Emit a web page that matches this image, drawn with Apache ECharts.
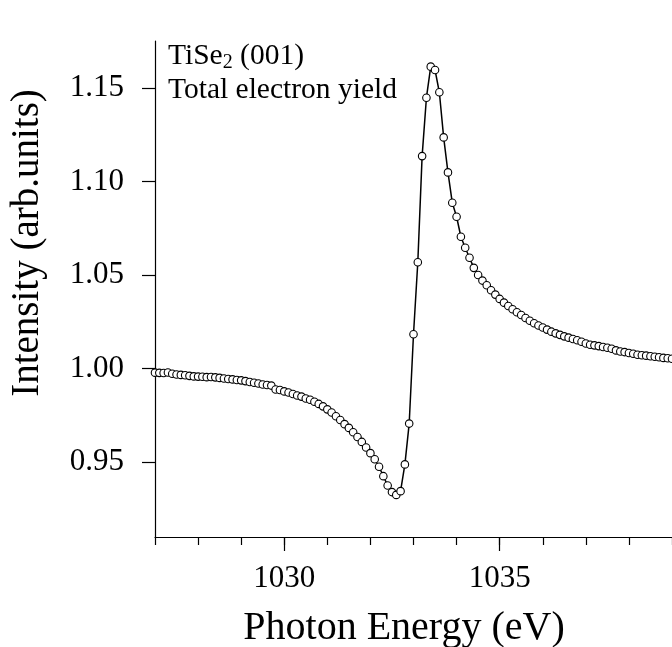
<!DOCTYPE html>
<html>
<head>
<meta charset="utf-8">
<script src="https://cdn.jsdelivr.net/npm/echarts@6/dist/echarts.min.js"></script>
<style>
html,body{margin:0;padding:0;background:#fff;}
#chart{width:672px;height:647px;}
</style>
</head>
<body>
<div id="chart"></div>
<script>
const energy = [
1027.0,1027.1,1027.2,1027.3,1027.4,1027.5,1027.6,1027.7,1027.8,1027.9,
1028.0,1028.1,1028.2,1028.3,1028.4,1028.5,1028.6,1028.7,1028.8,1028.9,
1029.0,1029.1,1029.2,1029.3,1029.4,1029.5,1029.6,1029.7,1029.8,1029.9,
1030.0,1030.1,1030.2,1030.3,1030.4,1030.5,1030.6,1030.7,1030.8,1030.9,
1031.0,1031.1,1031.2,1031.3,1031.4,1031.5,1031.6,1031.7,1031.8,1031.9,
1032.0,1032.1,1032.2,1032.3,1032.4,1032.5,1032.6,1032.7,1032.8,1032.9,
1033.0,1033.1,1033.2,1033.3,1033.4,1033.5,1033.6,1033.7,1033.8,1033.9,
1034.0,1034.1,1034.2,1034.3,1034.4,1034.5,1034.6,1034.7,1034.8,1034.9,
1035.0,1035.1,1035.2,1035.3,1035.4,1035.5,1035.6,1035.7,1035.8,1035.9,
1036.0,1036.1,1036.2,1036.3,1036.4,1036.5,1036.6,1036.7,1036.8,1036.9,
1037.0,1037.1,1037.2,1037.3,1037.4,1037.5,1037.6,1037.7,1037.8,1037.9,
1038.0,1038.1,1038.2,1038.3,1038.4,1038.5,1038.6,1038.7,1038.8,1038.9,
1039.0
];
const intensity = [
0.9978,0.9977,0.9976,0.9979,0.9972,0.9968,0.9966,0.9964,0.9961,0.9958,
0.9957,0.9956,0.9954,0.9955,0.9953,0.9950,0.9947,0.9944,0.9942,0.9939,
0.9937,0.9933,0.9928,0.9924,0.9920,0.9915,0.9912,0.9909,0.9888,0.9885,
0.9878,0.9872,0.9864,0.9856,0.9850,0.9840,0.9833,0.9823,0.9811,0.9798,
0.9782,0.9765,0.9745,0.9725,0.9703,0.9683,0.9660,0.9634,0.9608,0.9578,
0.9548,0.9515,0.9475,0.9425,0.9375,0.9340,0.9325,0.9345,0.9488,0.9706,
1.0183,1.0568,1.1135,1.1447,1.1613,1.1595,1.1476,1.1235,1.1048,1.0886,
1.0811,1.0704,1.0645,1.0592,1.0538,1.0500,1.0470,1.0445,1.0418,1.0395,
1.0372,1.0352,1.0334,1.0317,1.0301,1.0286,1.0270,1.0255,1.0242,1.0230,
1.0219,1.0208,1.0197,1.0188,1.0180,1.0172,1.0165,1.0158,1.0151,1.0143,
1.0134,1.0127,1.0124,1.0120,1.0115,1.0111,1.0106,1.0097,1.0091,1.0088,
1.0083,1.0079,1.0074,1.0071,1.0069,1.0066,1.0063,1.0060,1.0057,1.0055,
1.0052
];
const xMinorTicks = [1027,1028,1029,1030,1031,1032,1033,1034,1035,1036,1037,1038,1039];
const xMajorTicks = [1030,1035];
const yTicks = [0.95,1.00,1.05,1.10,1.15];
const xTitle = 'Photon Energy (eV)';
const yTitle = 'Intensity (arb.units)';
const annotation1 = ['TiSe','2',' (001)'];
const annotation2 = 'Total electron yield';

const FONT = 'Liberation Serif';
const data = energy.map((e,i)=>[e,intensity[i]]);

const chart = echarts.init(document.getElementById('chart'), null, {renderer:'canvas'});
chart.setOption({
  animation:false,
  backgroundColor:'#fff',
  grid:{left:155,right:0,top:41,bottom:110,containLabel:false},
  xAxis:[{
    type:'value',min:1027,max:1039,
    axisLine:{show:true,onZero:false,lineStyle:{color:'#000',width:1.2}},
    axisTick:{show:true,inside:false,length:8,customValues:xMinorTicks,lineStyle:{color:'#000',width:1.2}},
    axisLabel:{show:true,customValues:xMajorTicks,margin:26,color:'#000',fontFamily:FONT,fontSize:31,formatter:v=>String(Math.round(v))},
    splitLine:{show:false}
  },{
    type:'value',min:1027,max:1039,position:'bottom',offset:0,
    axisLine:{show:false},
    axisTick:{show:true,inside:false,length:14,customValues:xMajorTicks,lineStyle:{color:'#000',width:1.2}},
    axisLabel:{show:false},
    splitLine:{show:false}
  }],
  yAxis:{
    type:'value',min:0.91,max:1.175,
    axisLine:{show:true,onZero:false,lineStyle:{color:'#000',width:1.2}},
    axisTick:{show:true,inside:false,length:13,customValues:yTicks,lineStyle:{color:'#000',width:1.2}},
    axisLabel:{show:true,customValues:yTicks,margin:31,color:'#000',fontFamily:FONT,fontSize:31,formatter:v=>v.toFixed(2)},
    splitLine:{show:false}
  },
  series:[{
    type:'line',
    data:data,
    xAxisIndex:0,
    symbol:'circle',
    symbolSize:7.5,
    showAllSymbol:true,
    lineStyle:{color:'#000',width:1.5},
    itemStyle:{color:'#fff',borderColor:'#000',borderWidth:1.1},
    clip:false
  }],
  graphic:[{
    type:'text',left:168,top:41,
    style:{
      text:'{a|'+annotation1[0]+'}{s|'+annotation1[1]+'}{a|'+annotation1[2]+'}',
      rich:{
        a:{fontFamily:FONT,fontSize:29.5,lineHeight:34,fill:'#000'},
        s:{fontFamily:FONT,fontSize:20,lineHeight:20,verticalAlign:'bottom',fill:'#000'}
      },
      fill:'#000'
    }
  },{
    type:'text',left:168,top:75,
    style:{text:annotation2,fontFamily:FONT,fontSize:29.5,fill:'#000'}
  },{
    type:'text',x:404,y:628,
    style:{text:xTitle,fontFamily:FONT,fontSize:40,fill:'#000',align:'center',verticalAlign:'middle'}
  },{
    type:'text',x:28,y:243,rotation:Math.PI/2,
    style:{text:yTitle,fontFamily:FONT,fontSize:39,fill:'#000',align:'center',verticalAlign:'middle'}
  }]
});
</script>
</body>
</html>
